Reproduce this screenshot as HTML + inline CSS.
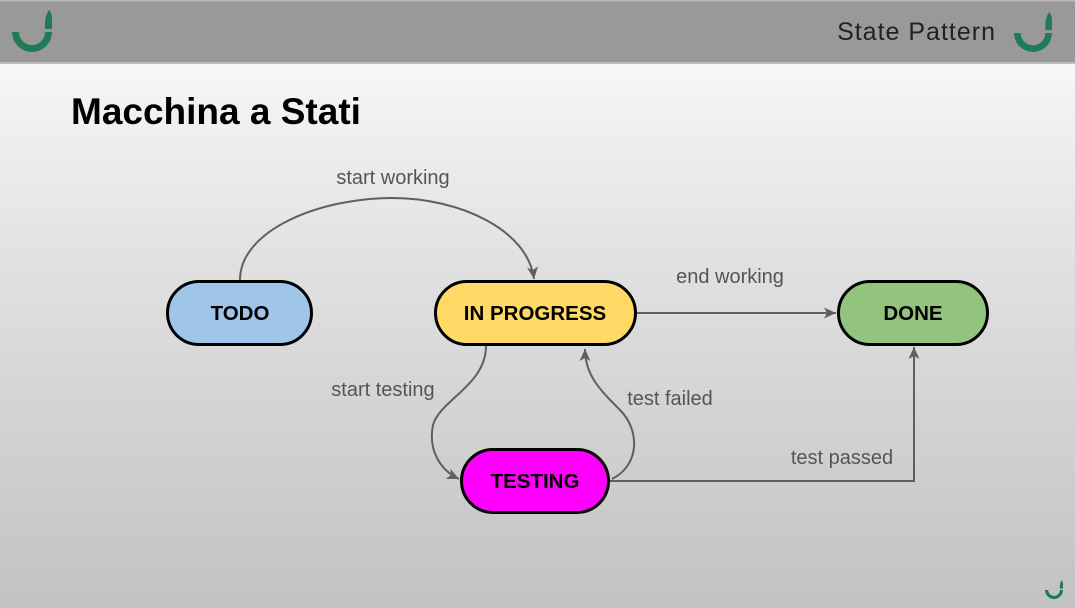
<!DOCTYPE html>
<html><head><meta charset="utf-8"><style>
html,body{margin:0;padding:0;width:1075px;height:608px;overflow:hidden}
body{background:linear-gradient(#f7f7f7 63px,#e2e2e2 250px,#c2c2c2 608px);font-family:"Liberation Sans",sans-serif}
</style></head><body>
<svg width="1075" height="608" viewBox="0 0 1075 608" style="position:absolute;left:0;top:0">
<defs>
<marker id="a" markerWidth="14" markerHeight="14" refX="12" refY="6" orient="auto" markerUnits="userSpaceOnUse">
<path d="M0,0.5 L12,6 L0,11.5 L3,6 Z" fill="#5f5f5f"/></marker>
<g id="logo">
<path d="M0,0 L7,0 A13,13 0 0 0 33,0 L40,0 A20,20 0 0 1 0,0 Z" fill="#1f7a55"/>
<path d="M33,-3 L40,-3 L40,-14 Q40,-19 37,-22 Q33,-16 33,-10 Z" fill="#1f7a55"/>
</g>
</defs>
<rect x="0" y="0" width="1075" height="63" fill="#999"/>
<rect x="0" y="0" width="1075" height="1.5" fill="#bbb"/>
<rect x="0" y="62" width="1075" height="2" fill="#bdbdbd"/>
<use href="#logo" transform="translate(12,32)"/>
<use href="#logo" transform="translate(1014,33) scale(0.95)"/>
<use href="#logo" transform="translate(1045,590) scale(0.45)"/>
<text x="996" y="40" text-anchor="end" font-size="25" fill="#222" letter-spacing="1">State Pattern</text>
<text x="71" y="124" font-size="37" font-weight="bold" fill="#000">Macchina a Stati</text>

<g fill="none" stroke="#5f5f5f" stroke-width="2">
<path d="M240,280 C240,230 320,198 392,198 C460,198 528,230 534,279" marker-end="url(#a)"/>
<path d="M636,313 L836,313" marker-end="url(#a)"/>
<path d="M486,346 C486,385 440,400 433,425 C428,450 440,470 459,479" marker-end="url(#a)"/>
<path d="M612,479 C640,465 640,430 620,410 C600,390 585,375 585,349" marker-end="url(#a)"/>
<path d="M610,481 L914,481 L914,347" marker-end="url(#a)"/>
</g>
<g font-size="20" fill="#555">
<text x="393" y="184" text-anchor="middle">start working</text>
<text x="730" y="283" text-anchor="middle">end working</text>
<text x="383" y="396" text-anchor="middle">start testing</text>
<text x="670" y="405" text-anchor="middle">test failed</text>
<text x="842" y="464" text-anchor="middle">test passed</text>
</g>
<g stroke="#000" stroke-width="3">
<rect x="167.5" y="281.5" width="144" height="63" rx="31.5" fill="#9fc5e8"/>
<rect x="435.5" y="281.5" width="200" height="63" rx="31.5" fill="#ffd966"/>
<rect x="838.5" y="281.5" width="149" height="63" rx="31.5" fill="#93c47d"/>
<rect x="461.5" y="449.5" width="147" height="63" rx="31.5" fill="#ff00ff"/>
</g>
<g font-size="20.5" font-weight="bold" fill="#000" text-anchor="middle">
<text x="240" y="320">TODO</text>
<text x="535" y="320">IN PROGRESS</text>
<text x="913" y="320">DONE</text>
<text x="535" y="488">TESTING</text>
</g>
</svg>
</body></html>
